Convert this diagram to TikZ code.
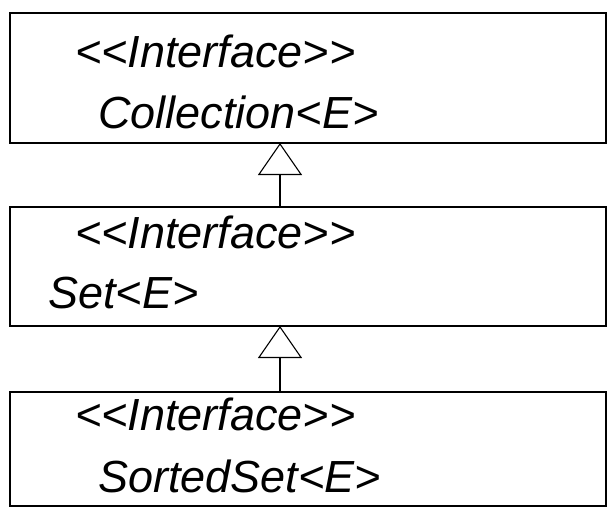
\documentclass[tikz,border=0pt]{standalone}
\usepackage{fontspec}
\setmainfont{Liberation Sans}
\usepackage{tikz}
\usetikzlibrary{positioning,arrows.meta,calc}

\begin{document}
\begin{tikzpicture}[
  x=1pt, y=-1pt,
  umlbox/.style={draw, line width=1.6pt, minimum width=596pt,
                 inner sep=0pt, outer sep=0pt},
  lbl/.style={anchor=base west, inner sep=0pt,
              font=\fontsize{45}{50}\selectfont\itshape},
  inherit/.style={-{Triangle[open, length=32pt, width=44pt]}, line width=1.1pt},
]
\useasboundingbox (0,0) rectangle (614,514);

%% Classes
\node[umlbox, minimum height=130pt] (coll) at (308,78) {};
\node[umlbox, minimum height=119pt] (set)  at (308,266.5) {};
\node[umlbox, minimum height=114pt] (sset) at (308,449) {};

%% Labels
\node[lbl] (collst) at (75,67)  {<{}<Interface>{}>};
\node[lbl] (colln)  at (98,128) {Collection<E>};
\node[lbl] (setst)  at (75,248) {<{}<Interface>{}>};
\node[lbl] (setn)   at (48,308) {Set<E>};
\node[lbl] (sst)    at (75,430) {<{}<Interface>{}>};
\node[lbl] (ssn)    at (98,492) {SortedSet<E>};

%% Generalisation
\draw[inherit] ([xshift=-28pt]set.north) -- ([xshift=-28pt]coll.south);
\draw[inherit] ([xshift=-28pt]sset.north) -- ([xshift=-28pt]set.south);

\end{tikzpicture}
\end{document}
